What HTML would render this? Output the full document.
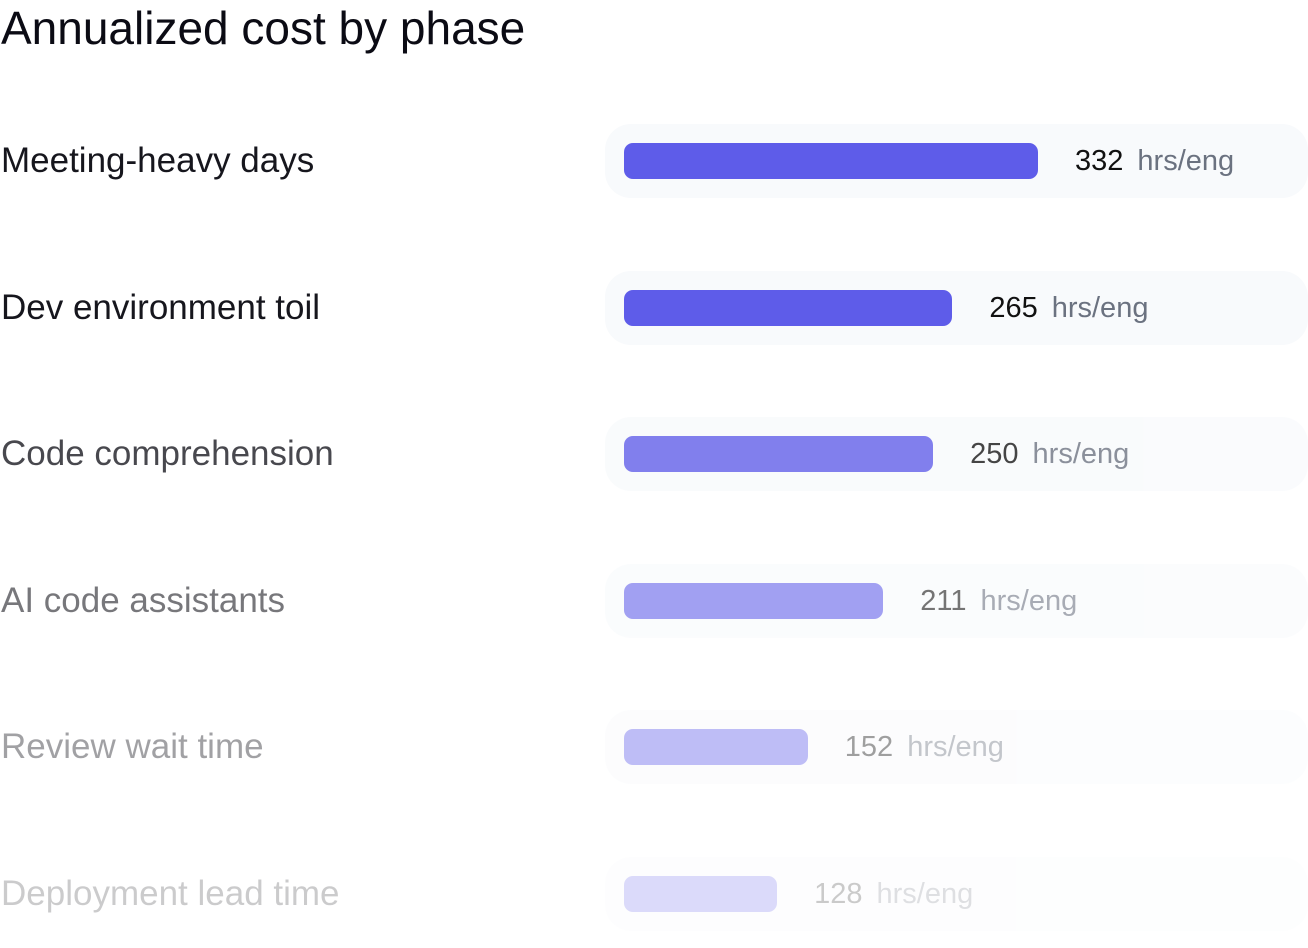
<!DOCTYPE html>
<html><head><meta charset="utf-8"><style>
body{margin:0;width:1308px;height:948px;background:#fff;font-family:"Liberation Sans",sans-serif;overflow:hidden;position:relative}
.title{position:absolute;left:1px;top:0;font-size:46px;line-height:56px;color:#0b0b14;margin:0;font-weight:normal}
.row{position:absolute;left:0;width:1308px;height:74px}
.lab{position:absolute;left:1px;top:0;line-height:74px;font-size:35px;color:#16161d}
.track{position:absolute;left:605px;top:0;width:703px;height:74px;border-radius:26px;background:#f8fafc}
.bar{position:absolute;left:624px;top:19px;height:36px;border-radius:9px;background:#5e5ce9}
.val{position:absolute;top:0;line-height:74px;font-size:29px;color:#111;white-space:nowrap}
.val span{color:#6b7280;margin-left:14px}
</style></head><body>
<h1 class="title">Annualized cost by phase</h1>
<div id="chart"></div>
<script>
const categories=["Meeting-heavy days","Dev environment toil","Code comprehension","AI code assistants","Review wait time","Deployment lead time"];
const values=[332,265,250,211,152,128];
const unitLabel="hrs/eng";
const chart=document.getElementById('chart');
const opac=[1,1,0.78,0.58,0.4,0.22];
function xScale(v){return v*1.279-10.6;}
categories.forEach((c,i)=>{
  const row=document.createElement('div');
  row.className='row';
  
  
  row.style.top=(124+i*146.6)+'px';
  row.style.opacity=opac[i];
  const lab=document.createElement('div');
  lab.className='lab';lab.textContent=c;
  
  
  const tr=document.createElement('div');tr.className='track';
  
  
  const bar=document.createElement('div');bar.className='bar';
  
  
  const w=xScale(values[i]);
  bar.style.width=w+'px';
  const val=document.createElement('div');val.className='val';
  
  
  val.style.left=(624+w+37)+'px';
  val.innerHTML=values[i]+'<span>'+unitLabel+'</span>';
  row.appendChild(lab);row.appendChild(tr);row.appendChild(bar);row.appendChild(val);
  chart.appendChild(row);
});
</script>
</body></html>
